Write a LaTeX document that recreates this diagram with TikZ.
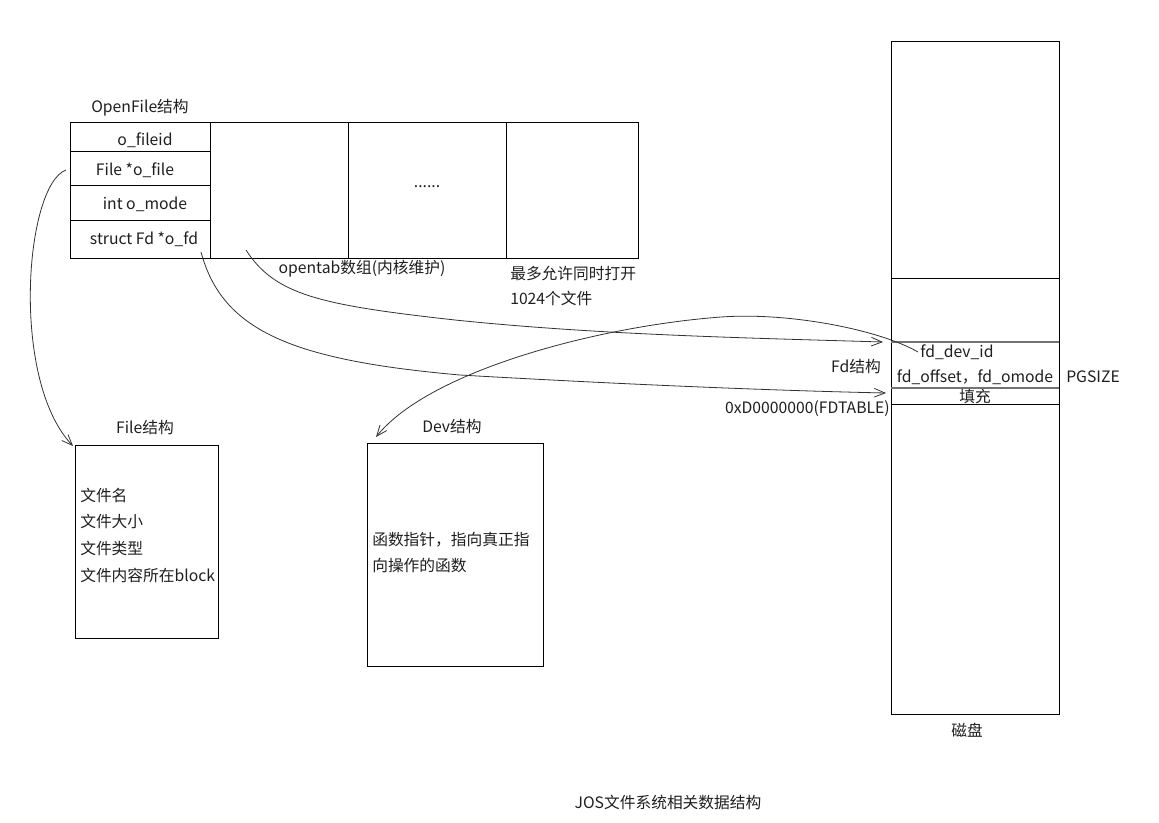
\documentclass[tikz,border=0pt]{standalone}
\usepackage{fontspec}
\setmainfont{Noto Sans CJK SC}
\usetikzlibrary{arrows.meta}
\begin{document}
\begin{tikzpicture}[x=0.75pt,y=-0.75pt,
  txt/.style={inner sep=0pt,font=\fontsize{11.8}{13}\selectfont,text=black!88},
  boxline/.style={draw=black,line width=0.75pt},
  grayline/.style={draw=black!55,line width=1.4pt},
  conn/.style={draw=black!80,line width=0.6pt,-{Straight Barb[length=8pt,width=6.5pt,line width=0.6pt]}}]
\useasboundingbox[fill=white] (0,0) rectangle (1159,822);

% OpenFile table
\draw[boxline] (70,122) rectangle (638,258);
\draw[boxline] (210,122) -- (210,258);
\draw[boxline] (348,122) -- (348,258);
\draw[boxline] (506,122) -- (506,258);
\draw[boxline] (70,151) -- (210,151);
\draw[boxline] (70,185) -- (210,185);
\draw[boxline] (70,220) -- (210,220);
\node[txt] (oftitle) at (140,108) {OpenFile结构};
\node[txt] (ofid) at (145,140) {o\_fileid};
\node[txt] (ofile) at (135,170) {File *o\_file};
\node[txt] (omode) at (145,204) {int o\_mode};
\node[txt] (ofd) at (144,239) {struct Fd *o\_fd};
\node[txt] (dots) at (427,187) {......};
\node[txt] (opentab) at (362,269) {opentab数组(内核维护)};
\node[txt,anchor=west] (max1) at (510,273) {最多允许同时打开};
\node[txt,anchor=west] (max2) at (510,298) {1024个文件};

% Disk column
\draw[boxline] (891,41) rectangle (1059,714);
\draw[boxline] (891,278) -- (1059,278);
\draw[grayline] (891,342) -- (1059,342);
\draw[grayline] (891,388) -- (1059,388);
\draw[boxline] (891,404) -- (1059,404);
\node[txt] (fddev) at (957,352) {fd\_dev\_id};
\node[txt] (fdoff) at (975,377) {fd\_offset，fd\_omode};
\node[txt] (fill) at (975,396) {填充};
\node[txt,anchor=west] (pgsize) at (1066,377) {PGSIZE};
\node[txt] (fdtitle) at (856,367) {Fd结构};
\node[txt,anchor=east] (fdtable) at (890,409) {0xD0000000(FDTABLE)};
\node[txt] (disk) at (967,730) {磁盘};

% File box
\draw[boxline] (75,445) rectangle (218,638);
\node[txt] (filetitle) at (145,428) {File结构};
\node[txt,anchor=west] (f1) at (80,495) {文件名};
\node[txt,anchor=west] (f2) at (80,521) {文件大小};
\node[txt,anchor=west] (f3) at (80,548) {文件类型};
\node[txt,anchor=west] (f4) at (80,575) {文件内容所在block};

% Dev box
\draw[boxline] (367,443) rectangle (543,666);
\node[txt] (devtitle) at (452,427) {Dev结构};
\node[txt,anchor=west] (d1) at (372,540) {函数指针，指向真正指};
\node[txt,anchor=west] (d2) at (372,566) {向操作的函数};

% caption
\node[txt] (caption) at (668,802) {JOS文件系统相关数据结构};

% connector end points
\coordinate (s1) at (66,170);
\coordinate (e1) at (73,446);
\coordinate (s2) at (201,252);
\coordinate (e2) at (886,393);
\coordinate (s3) at (246,250);
\coordinate (e3) at (883,342);
\coordinate (s4) at (918,352);
\coordinate (e4) at (376,437);

\draw[conn] (s1) .. controls (25,185) and (10,380) .. (e1);
\draw[conn] (s2) .. controls (222,330) and (290,360) .. (460,375)
   .. controls (600,383) and (750,390) .. (e2);
\draw[conn] (s3) .. controls (275,295) and (320,305) .. (455,320)
   .. controls (600,335) and (750,338) .. (e3);
\draw[conn] (s4) .. controls (880,330) and (790,312) .. (721,317)
   .. controls (600,326) and (430,370) .. (e4);
\end{tikzpicture}
\end{document}
